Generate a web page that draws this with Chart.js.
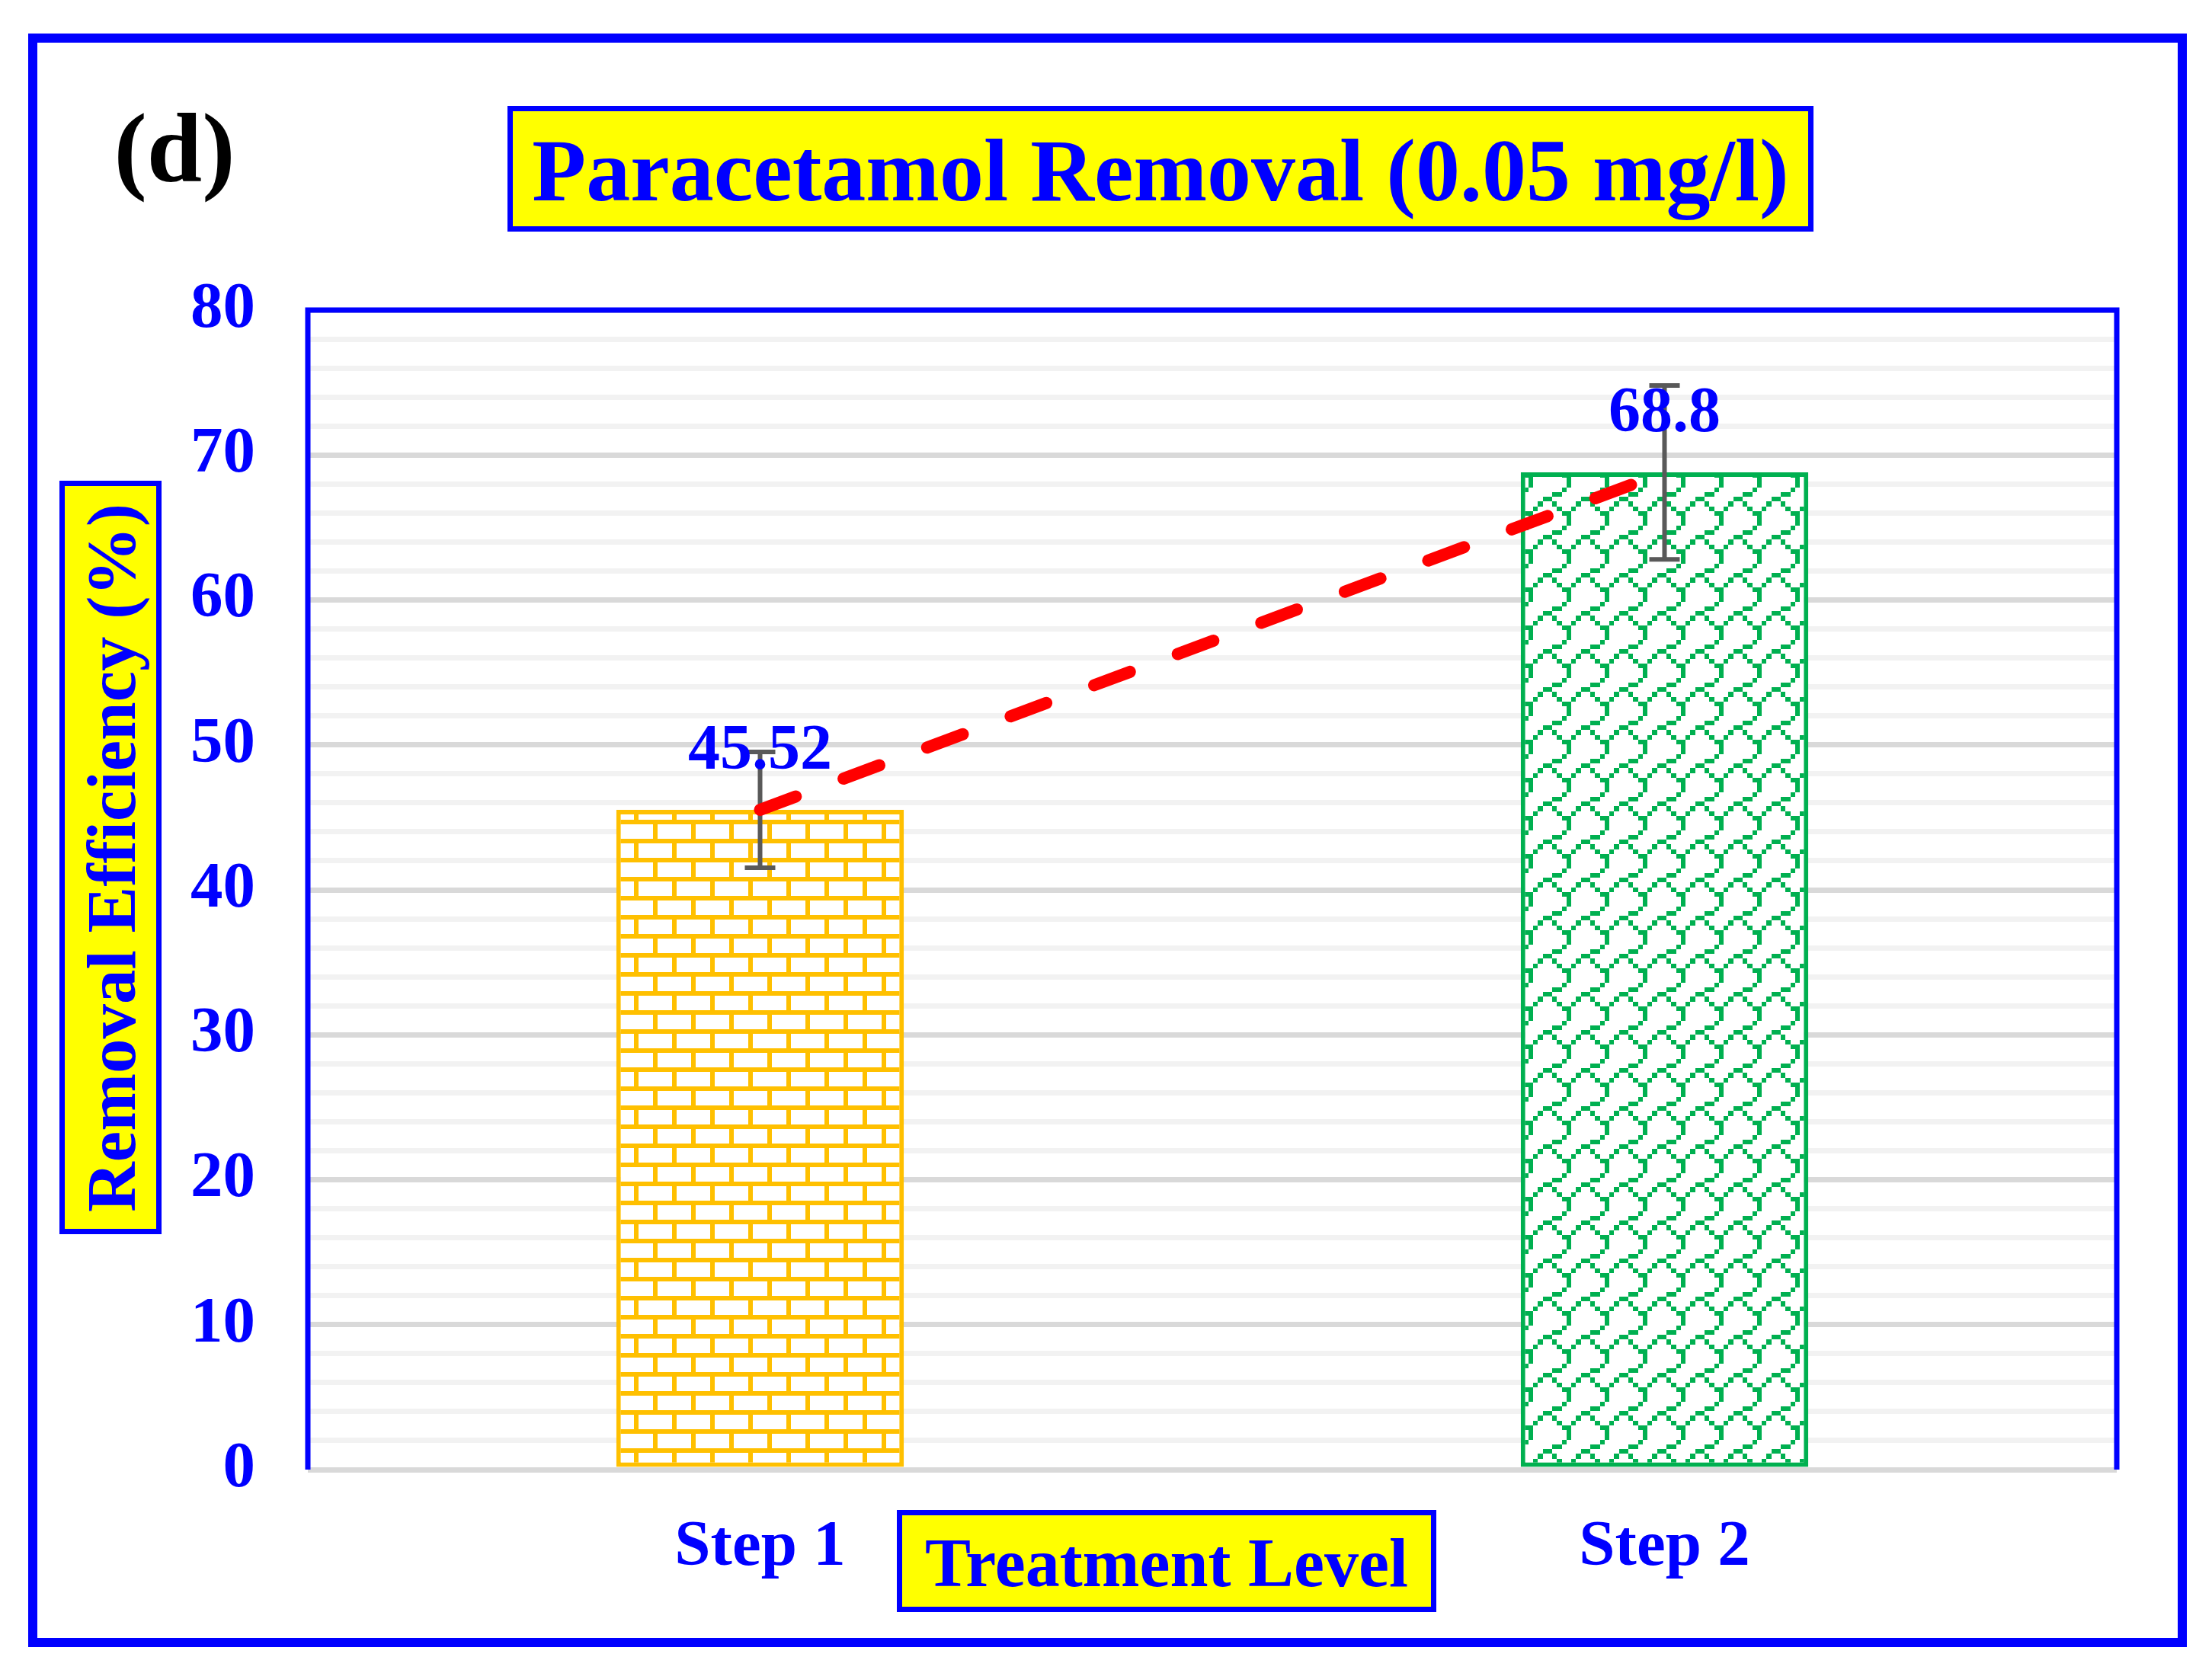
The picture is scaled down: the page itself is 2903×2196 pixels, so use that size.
<!DOCTYPE html>
<html>
<head>
<meta charset="utf-8">
<script src="https://cdn.jsdelivr.net/npm/chart.js@4.4.1/dist/chart.umd.min.js"></script>
<style>
  html, body { margin: 0; padding: 0; background: #fff; }
  canvas { display: block; }
</style>
</head>
<body>
<canvas id="my-chart" width="2903" height="2196"></canvas>
<script>
// Chart data
const categories = ["Step 1", "Step 2"];
const removal = [45.52, 68.8];
const errors = [4, 6];
const yTicks = [0, 10, 20, 30, 40, 50, 60, 70, 80];

const panelLabel = "(d)";
const chartTitle = "Paracetamol Removal (0.05 mg/l)";
const xTitle = "Treatment Level";
const yTitle = "Removal Efficiency (%)";

const BLUE = "#0000ff";
const SERIF = '"Liberation Serif", "Times New Roman", serif';

const ctx = document.getElementById("my-chart").getContext("2d");

// Excel style 8x8 hatch fills, each bit blown up to 6.25 px
function hatch(rows, color, ox, oy) {
  const tile = document.createElement("canvas");
  tile.width = 50;
  tile.height = 50;
  const g = tile.getContext("2d");
  g.fillStyle = "#ffffff";
  g.fillRect(0, 0, 50, 50);
  g.fillStyle = color;
  const e = i => Math.round(i * 6.25);
  rows.forEach((bits, r) => {
    for (let c = 0; c < 8; c++) {
      if (bits & (0x80 >> c)) g.fillRect(e(c), e(r), e(c + 1) - e(c), e(r + 1) - e(r));
    }
  });
  const p = ctx.createPattern(tile, "repeat");
  p.setTransform(new DOMMatrix().translate(ox, oy));
  return p;
}

const brick = hatch([0xff, 0x80, 0x80, 0x80, 0xff, 0x08, 0x08, 0x08], "#ffc000", 32, 1);
const shingle = hatch([0x01, 0x01, 0x02, 0x0c, 0x30, 0x48, 0x84, 0x03], "#00b050", 12, 27);

// yellow box with blue frame
function box(g, x1, y1, x2, y2) {
  g.fillStyle = "#ffff00";
  g.fillRect(x1, y1, x2 - x1, y2 - y1);
  g.lineWidth = 7;
  g.strokeStyle = BLUE;
  g.strokeRect(x1 + 3.5, y1 + 3.5, x2 - x1 - 7, y2 - y1 - 7);
}

const decor = {
  id: "decor",
  beforeDraw(chart) {
    const g = chart.ctx;
    g.save();
    g.fillStyle = "#ffffff";
    g.fillRect(0, 0, chart.width, chart.height);
    g.restore();
  },
  // error bars sit on the bars, under the dashed line
  afterDatasetDraw(chart, args) {
    if (args.index !== 0) return;
    const g = chart.ctx;
    const y = chart.scales.y;
    g.save();
    g.strokeStyle = "#595959";
    g.lineWidth = 6;
    args.meta.data.forEach((bar, i) => {
      const top = y.getPixelForValue(removal[i] + errors[i]);
      const bot = y.getPixelForValue(removal[i] - errors[i]);
      g.beginPath();
      g.moveTo(bar.x, top); g.lineTo(bar.x, bot);
      g.moveTo(bar.x - 20, top); g.lineTo(bar.x + 20, top);
      g.moveTo(bar.x - 20, bot); g.lineTo(bar.x + 20, bot);
      g.stroke();
    });
    g.restore();
  },
  afterDatasetsDraw(chart) {
    const g = chart.ctx;
    const a = chart.chartArea;
    g.save();
    // plot frame: left, top, right
    g.strokeStyle = BLUE;
    g.lineWidth = 7;
    g.beginPath();
    g.moveTo(a.left, a.bottom);
    g.lineTo(a.left, a.top);
    g.lineTo(a.right, a.top);
    g.lineTo(a.right, a.bottom);
    g.stroke();
    // value labels
    g.font = "bold 84px " + SERIF;
    g.fillStyle = BLUE;
    g.textAlign = "center";
    g.textBaseline = "alphabetic";
    chart.getDatasetMeta(0).data.forEach((bar, i) => {
      g.fillText(String(removal[i]), bar.x, bar.y - 54);
    });
    g.restore();
  },
  afterDraw(chart) {
    const g = chart.ctx;
    g.save();
    g.strokeStyle = BLUE;
    g.lineWidth = 12;
    g.strokeRect(43, 50, 2821, 2106);

    g.textAlign = "center";
    g.textBaseline = "alphabetic";
    g.fillStyle = "#000000";
    g.font = "bold 130px " + SERIF;
    g.fillText(panelLabel, 229, 238);

    box(g, 666, 139, 2380, 304);
    g.fillStyle = BLUE;
    g.font = "bold 116px " + SERIF;
    g.fillText(chartTitle, 1523, 263);

    box(g, 1177, 1982, 1885, 2116);
    g.fillStyle = BLUE;
    g.font = "bold 90px " + SERIF;
    g.fillText(xTitle, 1531, 2082);

    box(g, 78, 631, 212, 1620);
    g.fillStyle = BLUE;
    g.font = "bold 91px " + SERIF;
    g.translate(177, 1126);
    g.rotate(-Math.PI / 2);
    g.fillText(yTitle, 0, 0);
    g.restore();
  }
};

const tickFont = { family: SERIF, size: 85, weight: "bold" };

const myChart = new Chart(ctx, {
  type: "bar",
  data: {
    labels: categories,
    datasets: [
      {
        type: "bar",
        data: removal,
        order: 1,
        backgroundColor: [brick, shingle],
        borderColor: ["#ffc000", "#00b050"],
        borderWidth: 6,
        borderSkipped: false,
        barPercentage: 0.318,
        categoryPercentage: 1
      },
      {
        type: "line",
        data: removal,
        order: 0,
        borderColor: "#ff0000",
        borderWidth: 16,
        borderDash: [50, 67],
        borderCapStyle: "round",
        pointRadius: 0,
        fill: false,
        tension: 0
      }
    ]
  },
  options: {
    responsive: false,
    animation: false,
    devicePixelRatio: 1,
    layout: { padding: { top: 407, right: 125, left: 0, bottom: 0 } },
    plugins: {
      legend: { display: false },
      tooltip: { enabled: false }
    },
    scales: {
      x: {
        grid: { display: false, drawTicks: false },
        border: { display: false },
        ticks: { color: BLUE, font: tickFont, padding: 52 },
        afterFit: s => { s.height = 267; }
      },
      y: {
        min: 0,
        max: 80,
        border: { display: false },
        grid: {
          drawTicks: false,
          lineWidth: 7,
          color: c => (c.tick && c.tick.value % 10 === 0 ? "#d9d9d9" : "#f2f2f2")
        },
        ticks: {
          stepSize: 2,
          autoSkip: false,
          color: BLUE,
          font: tickFont,
          padding: 69,
          callback: v => (yTicks.includes(v) ? v : "")
        },
        afterFit: s => { s.width = 404; }
      }
    }
  },
  plugins: [decor]
});
</script>
</body>
</html>
